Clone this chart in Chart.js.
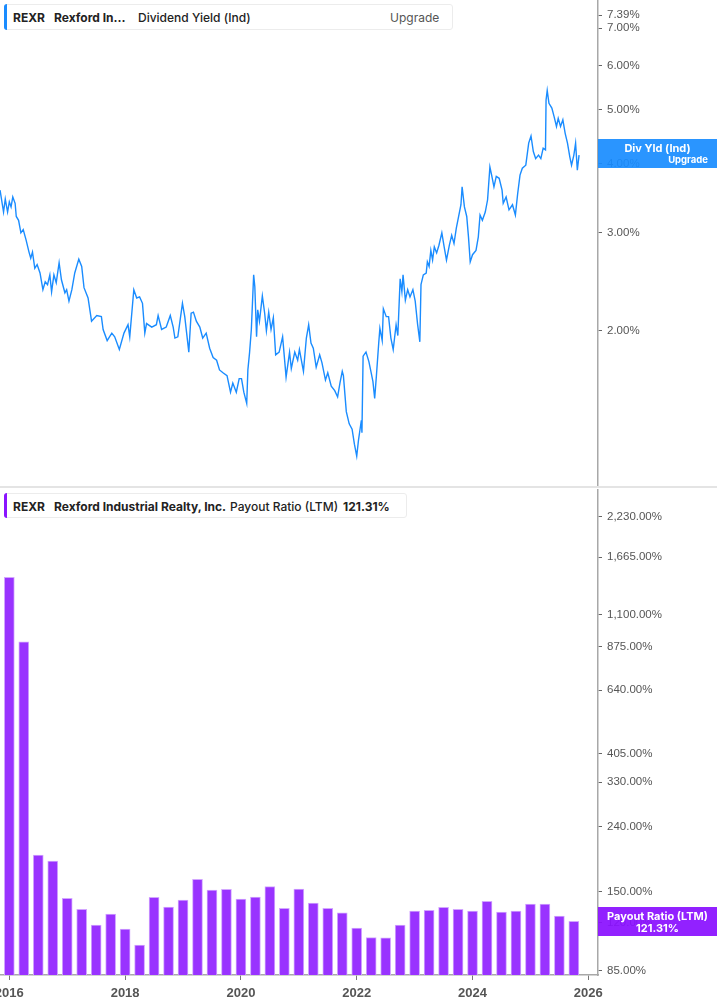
<!DOCTYPE html>
<html>
<head>
<meta charset="utf-8">
<script src="https://cdn.jsdelivr.net/npm/chart.js@4.4.1/dist/chart.umd.min.js"></script>
<style>
  html, body { margin: 0; padding: 0; background: #fff; }
  #wrap { position: relative; width: 717px; height: 1005px; overflow: hidden; font-family: Inter, "Noto Sans", sans-serif; }
  canvas { position: absolute; left: 0; }
  .sep { position: absolute; left: 0; top: 486px; width: 717px; height: 2px; background: #e4e4e4; }
  .legend { position: absolute; left: 4px; background: #fff; border: 1px solid #ececec; border-radius: 3px; box-sizing: border-box; }
  .legend .bar { position: absolute; left: -1px; top: -1px; bottom: -1px; width: 3px; border-radius: 3px 0 0 3px; }
  .legend span { position: absolute; top: 50%; transform: translateY(-50%); font-size: 12px; color: #222; white-space: nowrap; }
  .tag { position: absolute; left: 598px; width: 119px; color: #fff; font-weight: 700; font-size: 11px; }
  .tag div { position: absolute; white-space: nowrap; }
</style>
</head>
<body>
<div id="wrap">
  <canvas id="yieldChart" width="717" height="487" style="top:0"></canvas>
  <div class="sep"></div>
  <canvas id="payoutChart" width="717" height="517" style="top:488px"></canvas>

  <div class="legend" style="top:4px; width:449px; height:26px;">
    <div class="bar" style="background:#1a8cff"></div>
    <span style="left:8px; font-weight:700">REXR</span>
    <span style="left:49px; font-weight:700">Rexford In…</span>
    <span style="left:133px; font-weight:500">Dividend Yield (Ind)</span>
    <span style="left:385px; color:#555">Upgrade</span>
  </div>

  <div class="legend" style="top:493px; width:403px; height:25px;">
    <div class="bar" style="background:#8a14ff"></div>
    <span style="left:8px; font-weight:700">REXR</span>
    <span style="left:49px; font-weight:700">Rexford Industrial Realty, Inc.</span>
    <span style="left:225px; font-weight:500">Payout Ratio (LTM)</span>
    <span style="left:338px; font-weight:700">121.31%</span>
  </div>

  <div class="tag" style="top:139px; height:29px; background:rgba(24,140,255,0.92)">
    <div style="left:0; width:119px; text-align:center; top:2px; font-size:11px">Div Yld (Ind)</div>
    <div style="right:9px; top:15px; font-size:9.5px">Upgrade</div>
  </div>
  <div class="tag" style="top:907px; height:29px; background:rgba(138,16,255,0.93)">
    <div style="left:0; width:119px; text-align:center; top:2px">Payout Ratio (LTM)</div>
    <div style="left:0; width:119px; text-align:center; top:14px">121.31%</div>
  </div>
</div>

<script>
// dividend yield (Ind), % — decimal year / value pairs
const divYears = [
  2015.84,2015.90,2015.93,2015.97,2016.00,2016.03,2016.06,2016.10,2016.12,2016.16,
  2016.20,2016.24,2016.29,2016.34,2016.37,2016.40,2016.44,2016.48,2016.53,2016.58,
  2016.62,2016.66,2016.70,2016.73,2016.77,2016.81,2016.86,2016.90,2016.96,2016.99,
  2017.03,2017.08,2017.13,2017.20,2017.25,2017.29,2017.36,2017.42,2017.51,2017.59,
  2017.62,2017.69,2017.77,2017.82,2017.90,2017.98,2018.05,2018.08,2018.15,2018.20,
  2018.25,2018.30,2018.34,2018.37,2018.46,2018.54,2018.57,2018.63,2018.71,2018.78,
  2018.83,2018.86,2018.91,2018.99,2019.03,2019.07,2019.10,2019.14,2019.18,2019.23,
  2019.29,2019.34,2019.40,2019.46,2019.52,2019.58,2019.63,2019.69,2019.76,2019.82,
  2019.86,2019.92,2019.97,2020.01,2020.05,2020.10,2020.12,2020.15,2020.18,2020.22,
  2020.24,2020.27,2020.29,2020.32,2020.37,2020.41,2020.44,2020.48,2020.52,2020.56,
  2020.60,2020.66,2020.72,2020.78,2020.84,2020.87,2020.93,2020.98,2021.01,2021.08,
  2021.13,2021.17,2021.21,2021.25,2021.30,2021.36,2021.40,2021.46,2021.50,2021.56,
  2021.62,2021.67,2021.71,2021.75,2021.77,2021.82,2021.87,2021.92,2021.96,2022.00,
  2022.03,2022.08,2022.09,2022.11,2022.16,2022.21,2022.25,2022.28,2022.31,2022.34,
  2022.38,2022.40,2022.44,2022.46,2022.51,2022.55,2022.59,2022.63,2022.68,2022.71,
  2022.75,2022.78,2022.80,2022.84,2022.88,2022.92,2022.97,2023.01,2023.05,2023.09,
  2023.11,2023.15,2023.20,2023.22,2023.25,2023.28,2023.31,2023.34,2023.38,2023.42,
  2023.47,2023.51,2023.55,2023.60,2023.64,2023.68,2023.72,2023.76,2023.80,2023.82,
  2023.86,2023.90,2023.93,2023.96,2024.00,2024.06,2024.10,2024.13,2024.17,2024.22,
  2024.26,2024.30,2024.33,2024.37,2024.41,2024.46,2024.51,2024.53,2024.58,2024.63,
  2024.69,2024.74,2024.78,2024.82,2024.86,2024.92,2024.97,2025.01,2025.05,2025.09,
  2025.14,2025.18,2025.22,2025.26,2025.27,2025.29,2025.32,2025.37,2025.41,2025.45,
  2025.48,2025.52,2025.56,2025.60,2025.64,2025.68,2025.71,2025.75,2025.78,2025.81,
  2025.84
];
const divYield = [
  3.58,3.27,3.45,3.27,3.41,3.34,3.48,3.39,3.21,3.16,
  3.00,3.04,2.91,2.77,2.70,2.77,2.59,2.63,2.54,2.37,
  2.45,2.42,2.52,2.35,2.52,2.44,2.65,2.47,2.34,2.37,
  2.26,2.37,2.54,2.69,2.61,2.39,2.29,2.08,2.13,2.12,
  2.01,1.92,1.98,1.95,1.85,1.98,2.05,1.95,2.37,2.29,
  2.30,2.24,1.98,2.06,2.03,2.05,2.13,2.01,2.03,2.13,
  2.03,1.94,1.95,2.24,2.12,1.95,1.83,2.15,2.16,2.08,
  2.03,1.94,1.98,1.86,1.79,1.77,1.70,1.68,1.66,1.55,
  1.61,1.55,1.64,1.64,1.55,1.48,1.70,1.83,2.01,2.52,
  2.40,1.95,2.18,2.08,2.31,2.15,2.00,2.16,2.01,2.11,
  1.81,1.83,1.95,1.65,1.83,1.71,1.83,1.77,1.85,1.69,
  1.94,2.05,1.90,1.86,1.72,1.81,1.75,1.63,1.68,1.59,
  1.56,1.52,1.61,1.69,1.66,1.43,1.36,1.33,1.25,1.19,
  1.27,1.38,1.31,1.80,1.83,1.76,1.68,1.62,1.51,1.66,
  1.90,2.02,1.92,2.19,2.12,2.12,1.94,1.85,2.05,1.96,
  2.48,2.35,2.52,2.27,2.37,2.30,2.37,2.26,2.06,1.91,
  2.42,2.52,2.54,2.66,2.61,2.79,2.68,2.83,2.76,2.85,
  3.00,2.83,2.68,2.85,2.97,2.87,3.06,3.21,3.37,3.63,
  3.34,3.21,2.95,2.66,2.74,2.79,2.95,3.23,3.16,3.27,
  3.44,3.94,3.81,3.63,3.79,3.76,3.58,3.39,3.48,3.30,
  3.37,3.23,3.53,3.81,3.92,3.97,4.35,4.48,4.20,4.08,
  4.14,4.08,4.26,4.23,5.20,5.41,5.13,5.03,4.85,4.66,
  4.82,4.66,4.79,4.53,4.35,4.11,3.97,4.14,4.35,3.89,4.14
];

// payout ratio (LTM), % — quarter ends
const payoutDates = [
  2016.00,2016.25,2016.50,2016.75,2017.00,2017.25,2017.50,2017.75,
  2018.00,2018.25,2018.50,2018.75,2019.00,2019.25,2019.50,2019.75,
  2020.00,2020.25,2020.50,2020.75,2021.00,2021.25,2021.50,2021.75,
  2022.00,2022.25,2022.50,2022.75,2023.00,2023.25,2023.50,2023.75,
  2024.00,2024.25,2024.50,2024.75,2025.00,2025.25,2025.50,2025.75
];
const payoutRatio = [
  1442, 907, 195.4, 187.2, 143.1, 132.2, 118.1, 127.8,
  114.7, 102.3, 144.2, 134.4, 141.4, 164.1, 151.9, 152.7,
  142.4, 144.5, 155.6, 133.2, 153.0, 138.4, 133.2, 128.8,
  115.6, 107.8, 107.6, 118.1, 130.6, 131.3, 134.1, 132.2,
  130.6, 140.1, 129.7, 130.6, 137.4, 137.4, 126.0, 121.31
];

const yieldTicks = [2, 3, 4, 5, 6, 7, 7.39];
const payoutTicks = [85, 120, 150, 240, 330, 405, 640, 875, 1100, 1665, 2230];
const yearTicks = [2016, 2018, 2020, 2022, 2024, 2026];

const xMin = 2015.839, xMax = 2026.167;
const tickFont = { family: '"Liberation Sans", Arial, sans-serif', size: 11.5 };

function rightAxis(extra) {
  return Object.assign({
    type: 'logarithmic',
    position: 'right',
    afterFit: s => { s.width = 119; s.paddingTop = 0; s.paddingBottom = 0; },
    grid: { drawOnChartArea: false, tickLength: 4, color: '#666', lineWidth: 1 },
    border: { color: '#a8a8a8', width: 1.5 }
  }, extra);
}

new Chart(document.getElementById('yieldChart'), {
  type: 'line',
  data: {
    datasets: [{
      data: divYears.map((x, i) => ({ x: x, y: divYield[i] })),
      borderColor: '#1a8cff',
      borderWidth: 1.4,
      pointRadius: 0,
      tension: 0
    }]
  },
  options: {
    responsive: false,
    animation: false,
    layout: { padding: { top: 0, bottom: 2, left: 0, right: 0 } },
    plugins: { legend: { display: false }, tooltip: { enabled: false } },
    scales: {
      x: { type: 'linear', min: xMin, max: xMax, display: false },
      y: rightAxis({
        min: 1.0554, max: 7.870,
        afterBuildTicks: s => { s.ticks = yieldTicks.map(v => ({ value: v })); },
        ticks: { color: '#555', font: tickFont, padding: 5, autoSkip: false,
                 callback: v => v.toFixed(2) + '%' }
      })
    }
  }
});

new Chart(document.getElementById('payoutChart'), {
  type: 'bar',
  data: {
    datasets: [{
      data: payoutDates.map((x, i) => ({ x: x, y: payoutRatio[i] })),
      backgroundColor: '#9933ff',
      borderColor: '#d2a6ff',
      borderWidth: 1,
      barThickness: 10
    }]
  },
  options: {
    responsive: false,
    animation: false,
    layout: { padding: { top: 2, bottom: 0, left: 0, right: 0 } },
    plugins: { legend: { display: false }, tooltip: { enabled: false } },
    scales: {
      x: {
        type: 'linear', min: xMin, max: xMax, offset: false,
        afterBuildTicks: s => { s.ticks = yearTicks.map(v => ({ value: v })); },
        afterFit: s => { s.height = 30; s.paddingLeft = 0; s.paddingRight = 0; },
        grid: { drawOnChartArea: false, offset: false, tickLength: 5, color: '#777' },
        border: { color: '#a8a8a8', width: 1.5 },
        ticks: { color: '#555', font: { family: '"Liberation Sans", Arial, sans-serif', size: 13, weight: 'bold' },
                 padding: 6, autoSkip: false, maxRotation: 0, callback: v => String(v) }
      },
      y: rightAxis({
        min: 82.41, max: 2703,
        afterBuildTicks: s => { s.ticks = payoutTicks.map(v => ({ value: v })); },
        ticks: { color: '#555', font: tickFont, padding: 5, autoSkip: false,
                 callback: v => v.toLocaleString('en-US', { minimumFractionDigits: 2, maximumFractionDigits: 2 }) + '%' }
      })
    }
  }
});
</script>
</body>
</html>
